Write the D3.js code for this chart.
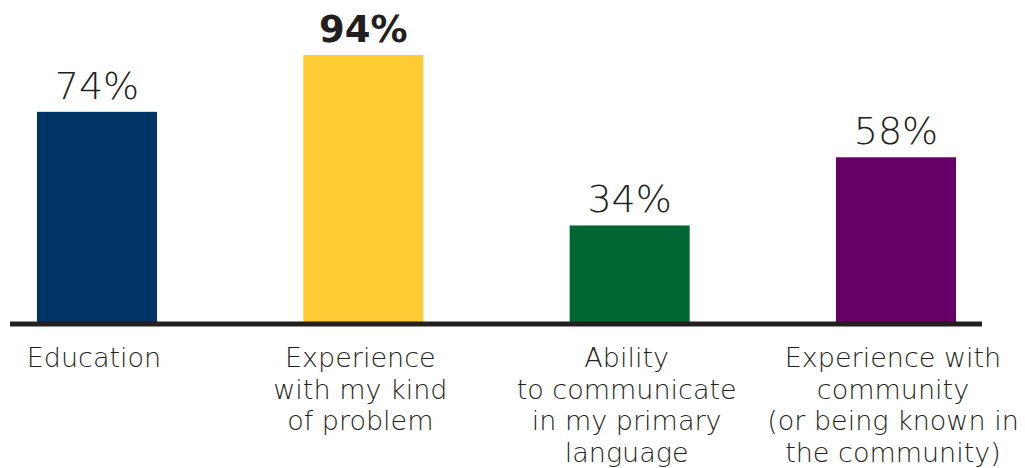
<!DOCTYPE html>
<html>
<head>
<meta charset="utf-8">
<script src="https://cdn.jsdelivr.net/npm/d3@7"></script>
<style>
  html, body { margin: 0; padding: 0; background: #ffffff; }
  svg { display: block; }
  text { font-family: "DejaVu Sans", "Open Sans", sans-serif; fill: #231f20; }
</style>
</head>
<body>
<svg id="chart" width="1025" height="468"></svg>
<script>
const categories = ["Education", "Experience with my kind of problem", "Ability to communicate in my primary language", "Experience with community (or being known in the community)"];
const labelLines = [
  ["Education"],
  ["Experience", "with my kind", "of problem"],
  ["Ability", "to communicate", "in my primary", "language"],
  ["Experience with", "community", "(or being known in", "the community)"]
];
const values = [74, 94, 34, 58];
const colors = ["#003366", "#ffcc33", "#006633", "#660066"];
const boldFlags = [false, true, false, false];

const svg = d3.select("#chart");
const x = d3.scaleBand().domain(categories).range([37, 956]).paddingInner(0.5494).paddingOuter(0);
const y = d3.scaleLinear().domain([0, 100]).range([322, 38]);

svg.selectAll("rect.bar").data(values).join("rect")
  .attr("class", "bar")
  .attr("x", (d, i) => x(categories[i]))
  .attr("y", d => y(d))
  .attr("width", x.bandwidth())
  .attr("height", d => y(0) - y(d))
  .attr("fill", (d, i) => colors[i]);

svg.append("line")
  .attr("x1", 10).attr("x2", 982)
  .attr("y1", y(0) + 2).attr("y2", y(0) + 2)
  .attr("stroke", "#231f20").attr("stroke-width", 5);

svg.selectAll("text.val").data(values).join("text")
  .attr("class", "val")
  .attr("x", (d, i) => x(categories[i]) + x.bandwidth() / 2)
  .attr("y", d => y(d) - 13)
  .attr("text-anchor", "middle")
  .style("font-size", (d, i) => boldFlags[i] ? "37px" : "38px")
  .style("font-weight", (d, i) => boldFlags[i] ? 700 : 300)
  .text(d => d + "%");

const lab = svg.selectAll("text.cat").data(labelLines).join("text")
  .attr("class", "cat")
  .attr("text-anchor", "middle")
  .style("font-size", "27px")
  .style("font-weight", 300);
lab.each(function(lines, i) {
  const cx = x(categories[i]) + x.bandwidth() / 2 - 3;
  d3.select(this).selectAll("tspan").data(lines).join("tspan")
    .attr("x", cx)
    .attr("y", (l, j) => 367 + j * 31.5)
    .text(l => l);
});
</script>
</body>
</html>
